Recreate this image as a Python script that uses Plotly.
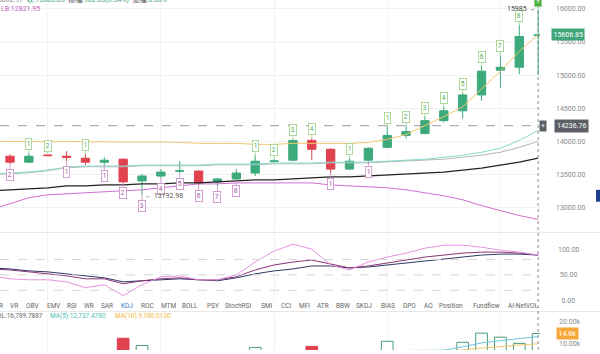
import plotly.graph_objects as go

# ---------------- data ----------------
idx = list(range(-1, 29))  # candle slots (first one sits just off the left edge)

opens  = [13700, 13776, 13686, 13795, 13776, 13746, 13686, 13731, 13403, 13477,
          13550, 13552, 13388, 13433, 13522, 13695, 13716, 14015, 13881, 13582,
          13716, 13910, 14090, 14120, 14313, 14462, 14701, 15075, 15119, 15600]
closes = [13780, 13686, 13776, 13785, 13761, 13686, 13716, 13388, 13477, 13537,
          13555, 13373, 13433, 13522, 13701, 13705, 14015, 13881, 13582, 13701,
          13896, 14090, 14150, 14313, 14462, 14701, 15060, 15119, 15582, 15606.85]
highs  = [13800, 13806, 13821, 13800, 13851, 13806, 13761, 13746, 13507, 13582,
          13701, 13560, 13448, 13582, 13791, 13731, 14030, 14045, 13896, 13746,
          13910, 14224, 14239, 14373, 14522, 14731, 15134, 15298, 15761, 15985]
lows   = [13680, 13656, 13671, 13780, 13701, 13642, 13642, 13380, 13192.98, 13448,
          13522, 13343, 13328, 13418, 13477, 13686, 13701, 13716, 13522, 13567,
          13701, 13896, 14045, 14105, 14284, 14343, 14612, 14806, 15015, 15002.97]

line_orange = [14000, 14000, 14000, 14000, 14000, 14000, 13995, 13990, 13990, 13990,
               13985, 13970, 13970, 13970, 13955, 13955, 13970, 13970, 13970, 13970,
               13985, 14030, 14104, 14239, 14373, 14522, 14791, 15060, 15358, 15612]
line_teal = [13507, 13522, 13537, 13567, 13612, 13627, 13627, 13627, 13642, 13642,
             13642, 13642, 13657, 13657, 13657, 13672, 13672, 13672, 13686, 13686,
             13686, 13701, 13716, 13731, 13761, 13791, 13836, 13896, 14015, 14164]
line_gray = [13497, 13512, 13527, 13557, 13602, 13617, 13617, 13617, 13632, 13632,
             13632, 13632, 13647, 13647, 13647, 13662, 13662, 13662, 13676, 13676,
             13676, 13691, 13701, 13716, 13731, 13761, 13791, 13836, 13910, 14000]
line_black = [13254, 13269, 13284, 13299, 13328, 13328, 13343, 13343, 13358, 13358,
              13373, 13373, 13388, 13403, 13418, 13418, 13433, 13448, 13463, 13463,
              13478, 13492, 13507, 13522, 13537, 13567, 13597, 13642, 13686, 13746]
line_lb = [12970, 13060, 13149, 13194, 13209, 13224, 13239, 13254, 13269, 13299,
           13328, 13358, 13358, 13373, 13373, 13373, 13373, 13373, 13343, 13328,
           13313, 13299, 13269, 13224, 13179, 13119, 13030, 12955, 12881, 12821.95]

ind_navy = [63.5, 61.5, 57.7, 55.8, 51.9, 48.1, 44.2, 36.5, 38.5, 40.4,
            42.3, 40.4, 38.5, 44.2, 51.9, 57.7, 61.5, 67.3, 67.3, 63.5,
            65.4, 69.2, 73.1, 76.9, 80.8, 84.6, 88.5, 90.4, 90.4, 88.5]
ind_purple = [61.5, 59.6, 55.8, 51.9, 48.1, 42.3, 42.3, 32.7, 38.5, 42.3,
              44.2, 40.4, 40.4, 46.2, 59.6, 69.2, 75.0, 78.8, 71.2, 63.5,
              67.3, 73.1, 78.8, 84.6, 88.5, 92.3, 94.2, 94.2, 92.3, 88.5]
ind_pink = [48.1, 42.3, 40.4, 40.4, 36.5, 25.0, 30.8, 9.6, 30.8, 46.2,
            48.1, 40.4, 40.4, 50.0, 75.0, 96.2, 109.6, 100.0, 69.2, 59.6,
            75.0, 84.6, 92.3, 101.9, 107.7, 107.7, 103.8, 98.1, 94.2, 88.5]

volume = [5000, 5200, 4800, 4500, 5000, 5500, 5000, 12400, 9000, 6000,
          5500, 6200, 5000, 5800, 8100, 5000, 6500, 8600, 6000, 5500,
          6300, 11000, 6000, 6200, 6400, 10500, 14800, 12900, 10000, 14600]
vol_ma5 = [5200, 5100, 5000, 4900, 5000, 5100, 5000, 6500, 6700, 6600,
           6600, 6500, 6400, 5700, 6100, 6000, 6300, 6600, 6500, 6400,
           6300, 6600, 6700, 6800, 6800, 8400, 10200, 11300, 12200, 13200]
vol_ma10 = [5000, 5000, 5000, 4900, 4900, 5000, 5000, 5600, 5900, 6000,
            6000, 6100, 6000, 6000, 6100, 6000, 6100, 6200, 6200, 6200,
            6300, 6400, 6400, 6500, 6500, 6900, 7800, 8600, 9200, 9800]

td_up = [(1, "1"), (2, "2"), (4, "1"), (13, "1"), (14, "2"), (15, "3"), (16, "4"),
         (18, "1"), (20, "1"), (21, "2"), (22, "3"), (23, "4"), (24, "5"),
         (25, "6"), (26, "7"), (27, "8"), (28, "9")]
td_down = [(0, "2"), (3, "1"), (5, "1"), (6, "2"), (7, "3"), (8, "4"), (9, "5"),
           (10, "6"), (11, "7"), (12, "8"), (17, "1"), (19, "1")]

main_ticks = [13000, 13500, 14000, 14500, 15000, 15500, 16000]
ind_ticks = [0, 50, 100]
vol_ticks = [10000, 20000]
tabs = ["R", "VR", "OBV", "EMV", "RSI", "WR", "SAR", "KDJ", "ROC", "MTM", "BOLL",
        "PSY", "StochRSI", "SMI", "CCI", "MFI", "ATR", "BBW", "SKDJ", "BIAS",
        "DPO", "AO", "Position", "Fundflow", "AI-NetVOL"]
tab_centers = [1, 14, 32, 54, 72, 89, 107, 127, 147, 168, 190,
               213, 238, 267, 286, 304, 323, 343, 364, 388,
               409, 428, 451, 486, 523]

last_close = 15606.85
cross_price = 14236.76
last_vol_label = "14.6k"

# ---------------- styling ----------------
W, H = 600, 354
GREEN = "#3daa7c"
RED = "#e0434f"
FONT = "Roboto"

def py(p):  # pixel row -> paper y
    return 1 - p / H

def px(p):
    return p / W

fig = go.Figure()

fig.add_trace(go.Candlestick(
    x=idx, open=opens, high=highs, low=lows, close=closes,
    increasing=dict(line=dict(color=GREEN, width=1), fillcolor=GREEN),
    decreasing=dict(line=dict(color=RED, width=1), fillcolor=RED),
    whiskerwidth=0, xaxis="x", yaxis="y", showlegend=False, hoverinfo="skip"))

for ys, col, w in [(line_lb, "#cf6fcf", 1), (line_black, "#222222", 1.2),
                   (line_gray, "#b5b5b5", 1), (line_teal, "#86d9cf", 1),
                   (line_orange, "#f3c46e", 1)]:
    fig.add_trace(go.Scatter(x=idx, y=ys, mode="lines", line=dict(color=col, width=w),
                             xaxis="x", yaxis="y", showlegend=False, hoverinfo="skip"))

for ys, col in [(ind_navy, "#2c3866"), (ind_purple, "#8a3470"), (ind_pink, "#e394e3")]:
    fig.add_trace(go.Scatter(x=idx, y=ys, mode="lines", line=dict(color=col, width=1),
                             xaxis="x2", yaxis="y2", showlegend=False, hoverinfo="skip"))

up = [c >= o for o, c in zip(opens, closes)]
fig.add_trace(go.Bar(
    x=idx, y=volume, width=0.62,
    marker=dict(color=["#ffffff" if u else RED for u in up],
                line=dict(color=["#4c9b7a" if u else RED for u in up], width=1)),
    xaxis="x3", yaxis="y3", showlegend=False, hoverinfo="skip"))
for ys, col in [(vol_ma10, "#f3c46e"), (vol_ma5, "#6fc3e0")]:
    fig.add_trace(go.Scatter(x=idx, y=ys, mode="lines", line=dict(color=col, width=1),
                             xaxis="x3", yaxis="y3", showlegend=False, hoverinfo="skip"))

xr = [-0.53, 28.1]
xcommon = dict(range=xr, showticklabels=False, showgrid=True, gridcolor="#f3f3f3",
               gridwidth=1, tick0=2, dtick=6, zeroline=False, showline=False,
               domain=[0, 0.9], fixedrange=True)
tickfont = dict(family=FONT, size=7, color="#8a8a8a")

fig.update_layout(
    width=W, height=H, margin=dict(l=0, r=0, t=0, b=0),
    paper_bgcolor="white", plot_bgcolor="white", boxgap=0.37,
    xaxis=dict(**xcommon, anchor="y", rangeslider=dict(visible=False)),
    xaxis2=dict(**xcommon, anchor="y2", matches="x"),
    xaxis3=dict(**xcommon, anchor="y3", matches="x"),
    yaxis=dict(domain=[py(233), 1], range=[12656.8, 16134.3], side="right",
               tickvals=main_ticks, ticktext=[f"{v:.2f}" for v in main_ticks],
               tickfont=tickfont, ticklabelstandoff=15, showgrid=True,
               gridcolor="#f2f2f2", zeroline=False, anchor="x"),
    yaxis2=dict(domain=[py(304), py(235)], range=[0, 132.7], side="right",
                tickvals=ind_ticks,
                ticktext=["\u00a0\u00a0" + f"{ind_ticks[0]:.2f}",
                          "\u00a0" + f"{ind_ticks[1]:.2f}", f"{ind_ticks[2]:.2f}"],
                tickfont=tickfont, ticklabelstandoff=17, showgrid=False,
                zeroline=False, anchor="x2"),
    yaxis3=dict(domain=[0, py(318)], range=[6900, 23560], side="right",
                tickvals=vol_ticks, ticktext=[f"{v/1000:.2f}k" for v in vol_ticks],
                tickfont=tickfont, ticklabelstandoff=18, showgrid=False,
                zeroline=False, anchor="x3"),
)

shapes = []
# panel separators
for p in (235, 315):
    shapes.append(dict(type="line", xref="paper", yref="paper", x0=0, x1=1,
                       y0=py(p), y1=py(p), line=dict(color="#e6e6e6", width=1)))
# indicator dashed levels
for lv in (20, 50, 80):
    shapes.append(dict(type="line", xref="paper", yref="y2", x0=0, x1=0.9, y0=lv, y1=lv,
                       line=dict(color="#d4d4d4", width=1, dash="dash")))
# crosshair
shapes.append(dict(type="line", xref="paper", yref="y", x0=0, x1=0.9,
                   y0=cross_price, y1=cross_price,
                   line=dict(color="#9a9a9a", width=1, dash="dash")))
shapes.append(dict(type="line", xref="x", yref="paper", x0=28, x1=28, y0=0, y1=1,
                   line=dict(color="#8a8a8a", width=1, dash="dot")))
# small side handle at the right edge
shapes.append(dict(type="rect", xref="paper", yref="paper", x0=px(596), x1=1,
                   y0=py(204), y1=py(192), fillcolor="#1f3f8f", line=dict(width=0)))
fig.update_layout(shapes=shapes)

ann = []
for i, t in td_up:
    k = idx.index(i)
    last = (t == "9")
    ann.append(dict(x=i, y=highs[k], xref="x", yref="y", text=t, showarrow=True,
                    arrowhead=0, arrowwidth=0.8, arrowcolor="#9bd38a", ax=0, ay=-9,
                    xanchor="center", yanchor="middle",
                    font=dict(family=FONT, size=6.5, color="white" if last else "#4caf50"),
                    bgcolor="#4cae3c" if last else "white", bordercolor="#9bd38a",
                    borderwidth=0.8, borderpad=1))
for i, t in td_down:
    k = idx.index(i)
    ann.append(dict(x=i, y=lows[k], xref="x", yref="y", text=t, showarrow=True,
                    arrowhead=0, arrowwidth=0.8, arrowcolor="#c98ac9", ax=0, ay=11,
                    xanchor="center", yanchor="middle",
                    font=dict(family=FONT, size=6.5, color="#9a4f9a"),
                    bgcolor="white", bordercolor="#c98ac9", borderwidth=0.8, borderpad=1))

k_low = lows.index(min(lows[:20]))
ann.append(dict(x=idx[k_low], y=lows[k_low], xref="x", yref="y", xanchor="left",
                yanchor="middle", xshift=1, yshift=-1, showarrow=False,
                text=f"\u2190 {lows[k_low]:.2f}",
                font=dict(family=FONT, size=7, color="#555")))
ann.append(dict(x=28, y=highs[-1], xref="x", yref="y", xanchor="right",
                yanchor="middle", xshift=-1, yshift=1, showarrow=False,
                text=f"{highs[-1]:.0f} \u2192",
                font=dict(family=FONT, size=7, color="#444")))

# right-side price tags
def tag(xc, y, yref, text, bg, pad=1.5):
    ann.append(dict(x=px(xc), y=y, xref="paper", yref=yref, showarrow=False,
                    xanchor="center", yanchor="middle", text=text, bgcolor=bg,
                    borderpad=pad, font=dict(family=FONT, size=7, color="white")))

tag(568, last_close, "y", f"{last_close:.2f}", "#3fa67a")
tag(571, cross_price, "y", f"{cross_price:.2f}", "#5c6066", 2)
tag(543, cross_price, "y", "+", "#5c6066", 1)
tag(567, 14600, "y3", last_vol_label, "#f5a83a")

# top info lines
ann.append(dict(x=px(-17), y=py(-1), xref="paper", yref="paper", xanchor="left",
                yanchor="middle", showarrow=False, align="left",
                text=("<span style='color:#888'>低:15002.97</span>  "
                      "<span style='color:#3fa67a'>收:15606.85</span>  "
                      "<span style='color:#555'>振幅:</span><span style='color:#3fa67a'>982.03(6.54%)</span>  "
                      "<span style='color:#555'>涨幅:</span><span style='color:#3fa67a'>0.00%</span>"),
                font=dict(family="Roboto, Noto Sans CJK SC", size=7)))
ann.append(dict(x=px(-1), y=py(9), xref="paper", yref="paper", xanchor="left",
                yanchor="middle", showarrow=False, text=f"LB:{line_lb[-1]:.2f}",
                font=dict(family=FONT, size=7, color="#c15fc1")))

# indicator tabs
for t, c in zip(tabs, tab_centers):
    ann.append(dict(x=px(c), y=py(309), xref="paper", yref="paper", showarrow=False,
                    xanchor="center", yanchor="middle", text=t,
                    font=dict(family=FONT, size=6.5,
                              color="#3a7bd5" if t == "KDJ" else "#666")))

# volume legend
ann.append(dict(x=px(45), y=py(320), xref="paper", yref="paper", xanchor="right",
                yanchor="middle", showarrow=False, text="VOL:16,789.7887",
                font=dict(family=FONT, size=6.5, color="#666")))
ann.append(dict(x=px(48), y=py(320), xref="paper", yref="paper", xanchor="left",
                yanchor="middle", showarrow=False, text="MA(5):12,737.4780",
                font=dict(family=FONT, size=6.5, color="#4fc3b5")))
ann.append(dict(x=px(113), y=py(320), xref="paper", yref="paper", xanchor="left",
                yanchor="middle", showarrow=False, text="MA(10):9,780.0130",
                font=dict(family=FONT, size=6.5, color="#f0b93e")))

fig.update_layout(annotations=ann)

fig.write_html("out.html", config={"displayModeBar": False})
